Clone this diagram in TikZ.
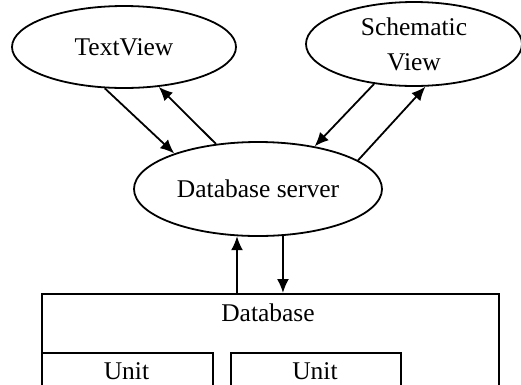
\documentclass[tikz,border=0pt]{standalone}
\usepackage{fontspec}
\setmainfont{Liberation Serif}
\usetikzlibrary{arrows.meta,shapes.geometric}

\begin{document}
\begin{tikzpicture}[x=1pt,y=-1pt,->,>={Latex[length=14pt,width=12pt]},line width=1.8pt,
    font=\fontsize{25.5}{35}\selectfont,
    view node/.style={ellipse,draw,inner sep=0pt,align=center},
    box node/.style={rectangle,draw,inner sep=0pt,anchor=north west}]

  \useasboundingbox (0,0) rectangle (521,384);
  \clip (0,0) rectangle (521,384);

  \node[view node,minimum width=224pt,minimum height=82pt] (text) at (124,47) {TextView};
  \node[view node,minimum width=216pt,minimum height=84pt] (schem) at (414,44) {Schematic\\View};
  \node[view node,minimum width=248pt,minimum height=94pt] (server) at (258,189) {Database server};

  \node[box node,minimum width=457pt,minimum height=120pt] (db) at (41,293) {};
  \node (dblabel) at (268,313) {Database};
  \node[box node,minimum width=171pt,minimum height=60pt] (unitA) at (41,352) {};
  \node[box node,minimum width=170pt,minimum height=60pt] (unitB) at (230,352) {};
  \node (unitAlabel) at (126.5,371) {Unit};
  \node (unitBlabel) at (315,371) {Unit};

  \path
        (text.-115.4) edge (server.157)
        (server.133.7) edge (text.-49.6)
        (schem.-135.7) edge (server.37.7)
        (server.16.2) edge (schem.-75.7)
        (db.north -| server.-114.4) edge (server.-114.4)
        (server.-62.5) edge (db.north -| server.-62.5)
        ;

\end{tikzpicture}
\end{document}
